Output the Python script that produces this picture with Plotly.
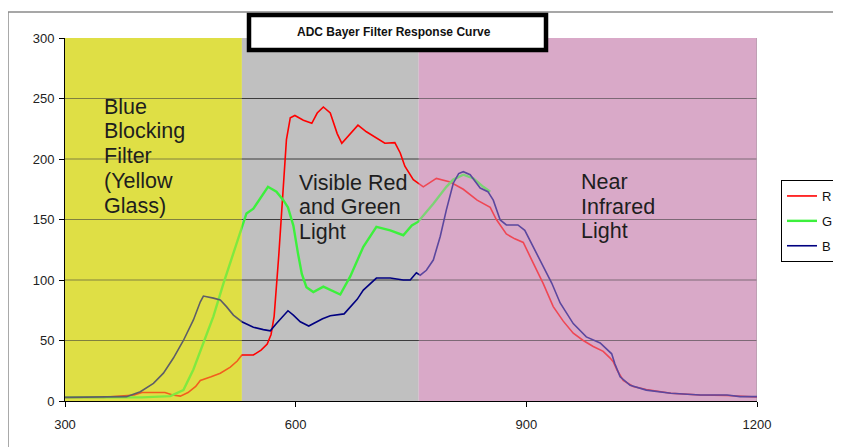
import plotly.graph_objects as go

# ---- data ----
red_wl = [300, 350, 390, 400, 430, 440, 450, 460, 470, 476, 490, 502, 515, 524, 530, 545, 555, 563, 568, 572,
          578, 584, 588, 593, 599, 610, 621, 628, 636, 645, 654, 660, 671, 681, 692, 705, 716, 729, 736, 742,
          753, 766, 783, 801, 818, 836, 853, 861, 874, 885, 896, 909, 922, 935, 948, 961, 974, 987, 1000, 1009,
          1013, 1018, 1026, 1039, 1056, 1088, 1126, 1161, 1200]
red_val = [3, 3, 5, 7, 7, 5, 4, 7, 12, 17, 20, 23, 28, 33, 38, 38, 42, 47, 55, 70,
           120, 174, 216, 234, 236, 232, 229.5, 238, 243, 238, 221, 213, 221, 228, 222.5, 217, 213, 213.5, 205, 194,
           183, 177, 184, 181, 175, 166, 160, 150, 138, 134, 131, 114, 97, 78, 66, 56, 50, 45, 41, 35.5,
           32.5, 25.6, 17, 12, 9.5, 6.4, 5, 4.5, 3.3]

green_wl = [300, 400, 437, 454, 467, 480, 493, 506, 519, 530, 536, 545, 554, 564, 575, 584, 590, 597, 603, 608,
            614, 623, 636, 645, 658, 671, 688, 705, 723, 740, 751, 759, 779, 796, 805, 818, 831, 844, 853]
green_val = [3, 3, 4, 9, 26, 48, 70, 97, 122, 144, 155, 159, 168, 177, 173, 166, 160, 145, 122, 105,
             94, 90, 94.5, 91.7, 88, 103, 127.5, 144, 141, 137, 145, 148, 163, 177, 183, 187, 184, 177, 173]

blue_wl = [300, 360, 380, 398, 415, 428, 441, 454, 467, 476, 480, 493, 502, 510, 519, 530, 545, 558, 567, 575,
           584, 590, 597, 606, 617, 635, 645, 663, 680, 688, 705, 723, 740, 749, 757, 762, 770, 779, 788, 796,
           805, 812, 818, 827, 840, 850, 857, 866, 874, 889, 898, 909, 922, 933, 944, 961, 978, 996, 1011, 1015,
           1022, 1035, 1056, 1088, 1126, 1161, 1178, 1200]
blue_val = [3, 3, 3.6, 7.7, 14.6, 23, 35.5, 50, 67, 82, 86.7, 85, 83.5, 78, 71, 65.5, 61, 59, 58, 64,
            70, 74.6, 71, 65.5, 62, 68, 70.5, 72, 84, 91.7, 101.6, 101.6, 100, 100, 106, 104, 108, 116.5, 136, 158,
            180, 188, 189.5, 187, 176, 173, 166, 149.6, 145.5, 145.5, 141, 127.5, 111, 97.5, 81, 64, 53, 48, 39, 31,
            20, 13, 9, 6.4, 5, 5, 3.6, 3.6]

series_names = ["R", "G", "B"]
x_ticks = [300, 600, 900, 1200]
y_ticks = [0, 50, 100, 150, 200, 250, 300]
grid_vals = [50, 100, 150, 200, 250]

# region bands (nm)
region_edges = [300, 530, 760, 1200]
region_colors = ["#dfdf46", "#c0c0c0", "#d9a9c8"]
region_overlay_opacity = [0.42, 0.0, 0.42]

region_text = [
    (348, ["Blue", "Blocking", "Filter", "(Yellow", "Glass)"], [0.8107, 0.7446, 0.6736, 0.6061, 0.5377]),
    (602, ["Visible Red", "and Green", "Light"], [0.6011, 0.5331, 0.4642]),
    (968, ["Near", "Infrared", "Light"], [0.6025, 0.5353, 0.4683]),
]

assert len(red_wl) == len(red_val)
assert len(green_wl) == len(green_val)
assert len(blue_wl) == len(blue_val)

FONT = "Liberation Sans, Arial, sans-serif"

fig = go.Figure()
fig.add_trace(go.Scatter(x=red_wl, y=red_val, mode="lines", name=series_names[0], legendgroup="r",
                         line=dict(color="#ff0000", width=1.6)))
fig.add_trace(go.Scatter(x=green_wl, y=green_val, mode="lines", name=series_names[1], legendgroup="g",
                         line=dict(color="#3cf03c", width=2.4)))
fig.add_trace(go.Scatter(x=blue_wl, y=blue_val, mode="lines", name=series_names[2], legendgroup="b",
                         line=dict(color="#000080", width=1.6)))

shapes = []
# outer chart border
shapes.append(dict(type="rect", xref="paper", yref="paper", x0=-0.0824, x1=1.3, y0=-0.3, y1=1.0716,
                   line=dict(color="#8a8a8a", width=1.5), fillcolor="rgba(0,0,0,0)", layer="below"))
# opaque region bands
for i, c in enumerate(region_colors):
    shapes.append(dict(type="rect", xref="x", yref="y", x0=region_edges[i], x1=region_edges[i + 1],
                       y0=0, y1=300, fillcolor=c, line=dict(width=0), layer="below"))
# gridlines
for g in grid_vals:
    shapes.append(dict(type="line", xref="x", yref="y", x0=300, x1=1200, y0=g, y1=g,
                       line=dict(color="#3c3c3c", width=1), layer="below"))
# right border of plot area
shapes.append(dict(type="line", xref="x", yref="y", x0=1200, x1=1200, y0=0, y1=300,
                   line=dict(color="#909090", width=1.2), layer="below"))
# translucent tint over the traces
for i, c in enumerate(region_colors):
    if region_overlay_opacity[i] > 0:
        shapes.append(dict(type="rect", xref="x", yref="y", x0=region_edges[i], x1=region_edges[i + 1],
                           y0=0, y1=300, fillcolor=c, opacity=region_overlay_opacity[i],
                           line=dict(width=0), layer="above"))
# title box
shapes.append(dict(type="rect", xref="paper", yref="paper", x0=0.2659, x1=0.6951, y0=0.9669, y1=1.0634,
                   fillcolor="white", line=dict(color="black", width=4.5), layer="above"))

annotations = [dict(text="<b>ADC Bayer Filter Response Curve</b>", xref="paper", yref="paper",
                    x=0.4754, y=1.0165, showarrow=False, xanchor="center", yanchor="middle",
                    font=dict(family=FONT, size=12, color="#111"))]
for xpos, lines, ys in region_text:
    for txt, yy in zip(lines, ys):
        annotations.append(dict(text=txt, xref="x", yref="paper", x=xpos, y=yy, showarrow=False,
                                xanchor="left", yanchor="middle",
                                font=dict(family=FONT, size=21.5, color="#1e1e1e")))

# the page adds an 8px body margin, so the figure is offset by 8px
fig.update_layout(
    width=841, height=439,
    margin=dict(l=57, r=92, t=30, b=46, autoexpand=False),
    paper_bgcolor="white", plot_bgcolor="white",
    font=dict(family=FONT, size=13, color="#222"),
    showlegend=True,
    legend=dict(x=1.0347, y=0.6088, xanchor="left", yanchor="top",
                bordercolor="black", borderwidth=1, bgcolor="white", tracegroupgap=5,
                font=dict(family=FONT, size=13, color="#111")),
    shapes=shapes,
    annotations=annotations,
)
fig.update_xaxes(range=[300, 1200], tickvals=x_ticks, showgrid=False, zeroline=False,
                 showline=True, linecolor="black", linewidth=1, ticks="outside", ticklen=5,
                 tickcolor="black", ticklabelstandoff=6, tickfont=dict(size=13, color="#222"))
fig.update_yaxes(range=[0, 300], tickvals=y_ticks, showgrid=False, zeroline=False,
                 showline=True, linecolor="black", linewidth=1, ticks="outside", ticklen=5,
                 tickcolor="black", ticklabelstandoff=2, tickfont=dict(size=13, color="#222"))

fig.write_html("out.html")
